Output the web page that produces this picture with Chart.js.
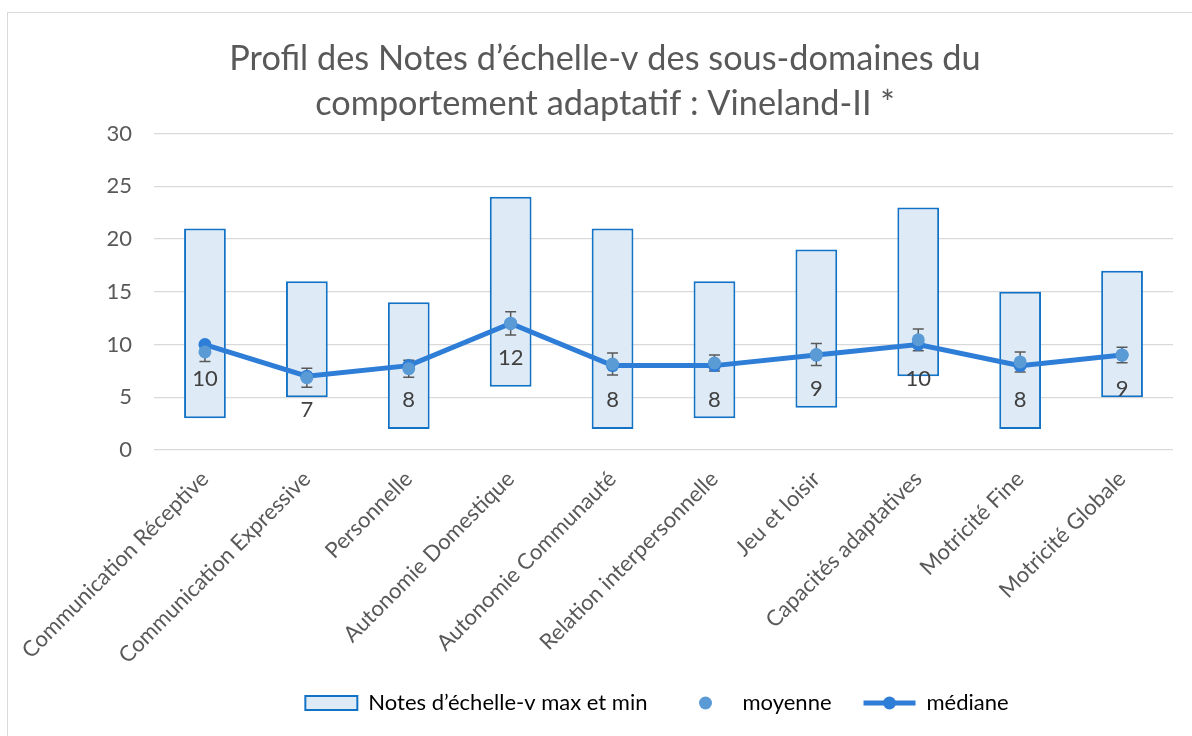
<!DOCTYPE html>
<html><head><meta charset="utf-8">
<script src="https://cdn.jsdelivr.net/npm/chart.js@4.4.1/dist/chart.umd.min.js"></script>
<style>
html,body{margin:0;padding:0;overflow:hidden;background:#fff;width:1192px;height:736px}
#c{display:block}
</style></head><body>
<canvas id="c" width="1192" height="736"></canvas>
<script>
const categories = ['Communication Réceptive','Communication Expressive','Personnelle','Autonomie Domestique','Autonomie Communauté','Relation interpersonnelle','Jeu et loisir','Capacités adaptatives','Motricité Fine','Motricité Globale'];
const maxScores = [21,16,14,24,21,16,19,23,15,17];
const minScores = [3,5,2,6,2,3,4,7,2,5];
const medianScores = [10,7,8,12,8,8,9,10,8,9];
const meanScores = [9.3,6.85,7.7,12.0,8.15,8.25,9.05,10.45,8.35,9.0];
const meanErrors = [0.9,0.9,0.8,1.1,1.05,0.75,1.05,1.03,0.95,0.73];
const yTicks = [0,5,10,15,20,25,30];
const titleLines = ['Profil des Notes d’échelle-v des sous-domaines du','comportement adaptatif : Vineland-II *'];
const seriesNames = ['Notes d’échelle-v max et min','moyenne','médiane'];

const FONT = 'Lato';
const TEXT = '#595959';
const MEAN_COLOR = '#5B9BD5';
const MED_COLOR = '#2E7DD6';

const decor = {
  id: 'decor',
  beforeDraw(chart) {
    const ctx = chart.ctx;
    ctx.save();
    ctx.fillStyle = '#fff';
    ctx.fillRect(0, 0, chart.width, chart.height);
    ctx.strokeStyle = '#D9D9D9';
    ctx.lineWidth = 1;
    ctx.strokeRect(7.5, 12.5, 1220, 760);
    ctx.restore();
  },
  afterLayout(chart) {
    const t = chart.titleBlock;
    if (t) { t.left += 18.5; t.right += 18.5; }
    const lg = chart.legend;
    if (lg) {
      const h = lg.height;
      lg.left += 70.5; lg.right += 70.5;
      lg.top = 703 - lg.options.labels.padding - 11;
      lg.bottom = lg.top + h;
    }
  },
  beforeDatasetDraw(chart, args) {
    if (args.index !== 2) return;
    const ctx = chart.ctx, xs = chart.scales.x, ys = chart.scales.y;
    ctx.save();
    ctx.strokeStyle = '#595959';
    ctx.lineWidth = 1.5;
    meanScores.forEach((m, i) => {
      const px = xs.getPixelForValue(i);
      const t = ys.getPixelForValue(m + meanErrors[i]);
      const b = ys.getPixelForValue(m - meanErrors[i]);
      ctx.beginPath();
      ctx.moveTo(px, t); ctx.lineTo(px, b);
      ctx.moveTo(px - 5.5, t); ctx.lineTo(px + 5.5, t);
      ctx.moveTo(px - 5.5, b); ctx.lineTo(px + 5.5, b);
      ctx.stroke();
    });
    ctx.restore();
  },
  afterDatasetsDraw(chart) {
    const ctx = chart.ctx;
    const meta = chart.getDatasetMeta(2);
    ctx.save();
    ctx.fillStyle = '#404040';
    ctx.font = '22px ' + FONT;
    ctx.textAlign = 'center';
    ctx.textBaseline = 'middle';
    meta.data.forEach((pt, i) => {
      ctx.fillText(String(medianScores[i]), pt.x, pt.y + 34);
    });
    ctx.restore();
  },
  afterDraw(chart) {
    const hb = chart.legend && chart.legend.legendHitBoxes;
    if (!hb || hb.length < 3) return;
    const ctx = chart.ctx;
    ctx.save();
    const y1 = hb[1].top + 11;
    ctx.fillStyle = MEAN_COLOR;
    ctx.beginPath(); ctx.arc(hb[1].left + 26, y1, 6.5, 0, Math.PI * 2); ctx.fill();
    const y2 = hb[2].top + 11;
    ctx.strokeStyle = MED_COLOR; ctx.lineWidth = 5;
    ctx.beginPath(); ctx.moveTo(hb[2].left, y2); ctx.lineTo(hb[2].left + 52, y2); ctx.stroke();
    ctx.fillStyle = MED_COLOR;
    ctx.beginPath(); ctx.arc(hb[2].left + 26, y2, 6.5, 0, Math.PI * 2); ctx.fill();
    ctx.restore();
  }
};

function build() {
  Chart.defaults.font.family = FONT;
  Chart.defaults.color = TEXT;
  new Chart(document.getElementById('c'), {
    type: 'bar',
    data: {
      labels: categories,
      datasets: [
        { type: 'bar', label: seriesNames[0], data: minScores.map((v, i) => [v, maxScores[i]]),
          backgroundColor: '#DEEBF7', borderColor: '#1273C6', borderWidth: 2, borderSkipped: false,
          barPercentage: 0.41, categoryPercentage: 1, order: 3 },
        { type: 'line', label: seriesNames[1], data: meanScores, showLine: false,
          pointRadius: 6.5, pointBackgroundColor: MEAN_COLOR, pointBorderWidth: 0, borderColor: MEAN_COLOR, order: 1 },
        { type: 'line', label: seriesNames[2], data: medianScores, borderColor: MED_COLOR, borderWidth: 5,
          pointRadius: 6.5, pointBackgroundColor: MED_COLOR, pointBorderWidth: 0, tension: 0, order: 2 }
      ]
    },
    options: {
      responsive: false,
      animation: false,
      events: [],
      layout: { padding: { left: 0, right: 19, top: 0, bottom: 0 } },
      plugins: {
        tooltip: { enabled: false },
        title: {
          display: true, text: titleLines, color: TEXT,
          font: { family: FONT, size: 34.3, weight: 'normal', lineHeight: 1.32 },
          padding: { top: 36, bottom: 7 }
        },
        legend: {
          position: 'bottom',
          labels: {
            boxWidth: 52, boxHeight: 14, padding: 32, color: TEXT,
            font: { family: FONT, size: 22 },
            generateLabels() {
              return [
                { text: seriesNames[0], fillStyle: '#DEEBF7', strokeStyle: '#1273C6', lineWidth: 2, datasetIndex: 0, hidden: false },
                { text: seriesNames[1], fillStyle: 'rgba(0,0,0,0)', strokeStyle: 'rgba(0,0,0,0)', lineWidth: 0, datasetIndex: 1, hidden: false },
                { text: seriesNames[2], fillStyle: 'rgba(0,0,0,0)', strokeStyle: 'rgba(0,0,0,0)', lineWidth: 0, datasetIndex: 2, hidden: false }
              ];
            }
          }
        }
      },
      scales: {
        x: {
          grid: { display: false, drawTicks: false },
          border: { display: false },
          ticks: { autoSkip: false, maxRotation: 45, minRotation: 45, padding: 16, color: TEXT, font: { family: FONT, size: 22 } },
          afterFit(s) { s.height = 286 - (s.chart.legend ? s.chart.legend.height : 0); }
        },
        y: {
          min: 0, max: 30,
          grid: { color: '#D9D9D9', lineWidth: 1.3, drawTicks: false },
          border: { display: false },
          ticks: { stepSize: 5, padding: 22, color: TEXT, font: { family: FONT, size: 22 } },
          afterBuildTicks(s) { s.ticks = yTicks.map(v => ({ value: v })); },
          afterFit(s) { s.width = 154; }
        }
      }
    },
    plugins: [decor]
  });
}
if (document.fonts && document.fonts.load) {
  Promise.all([document.fonts.load('22px Lato'), document.fonts.load('34px Lato')]).then(build, build);
} else build();
</script>
</body></html>
